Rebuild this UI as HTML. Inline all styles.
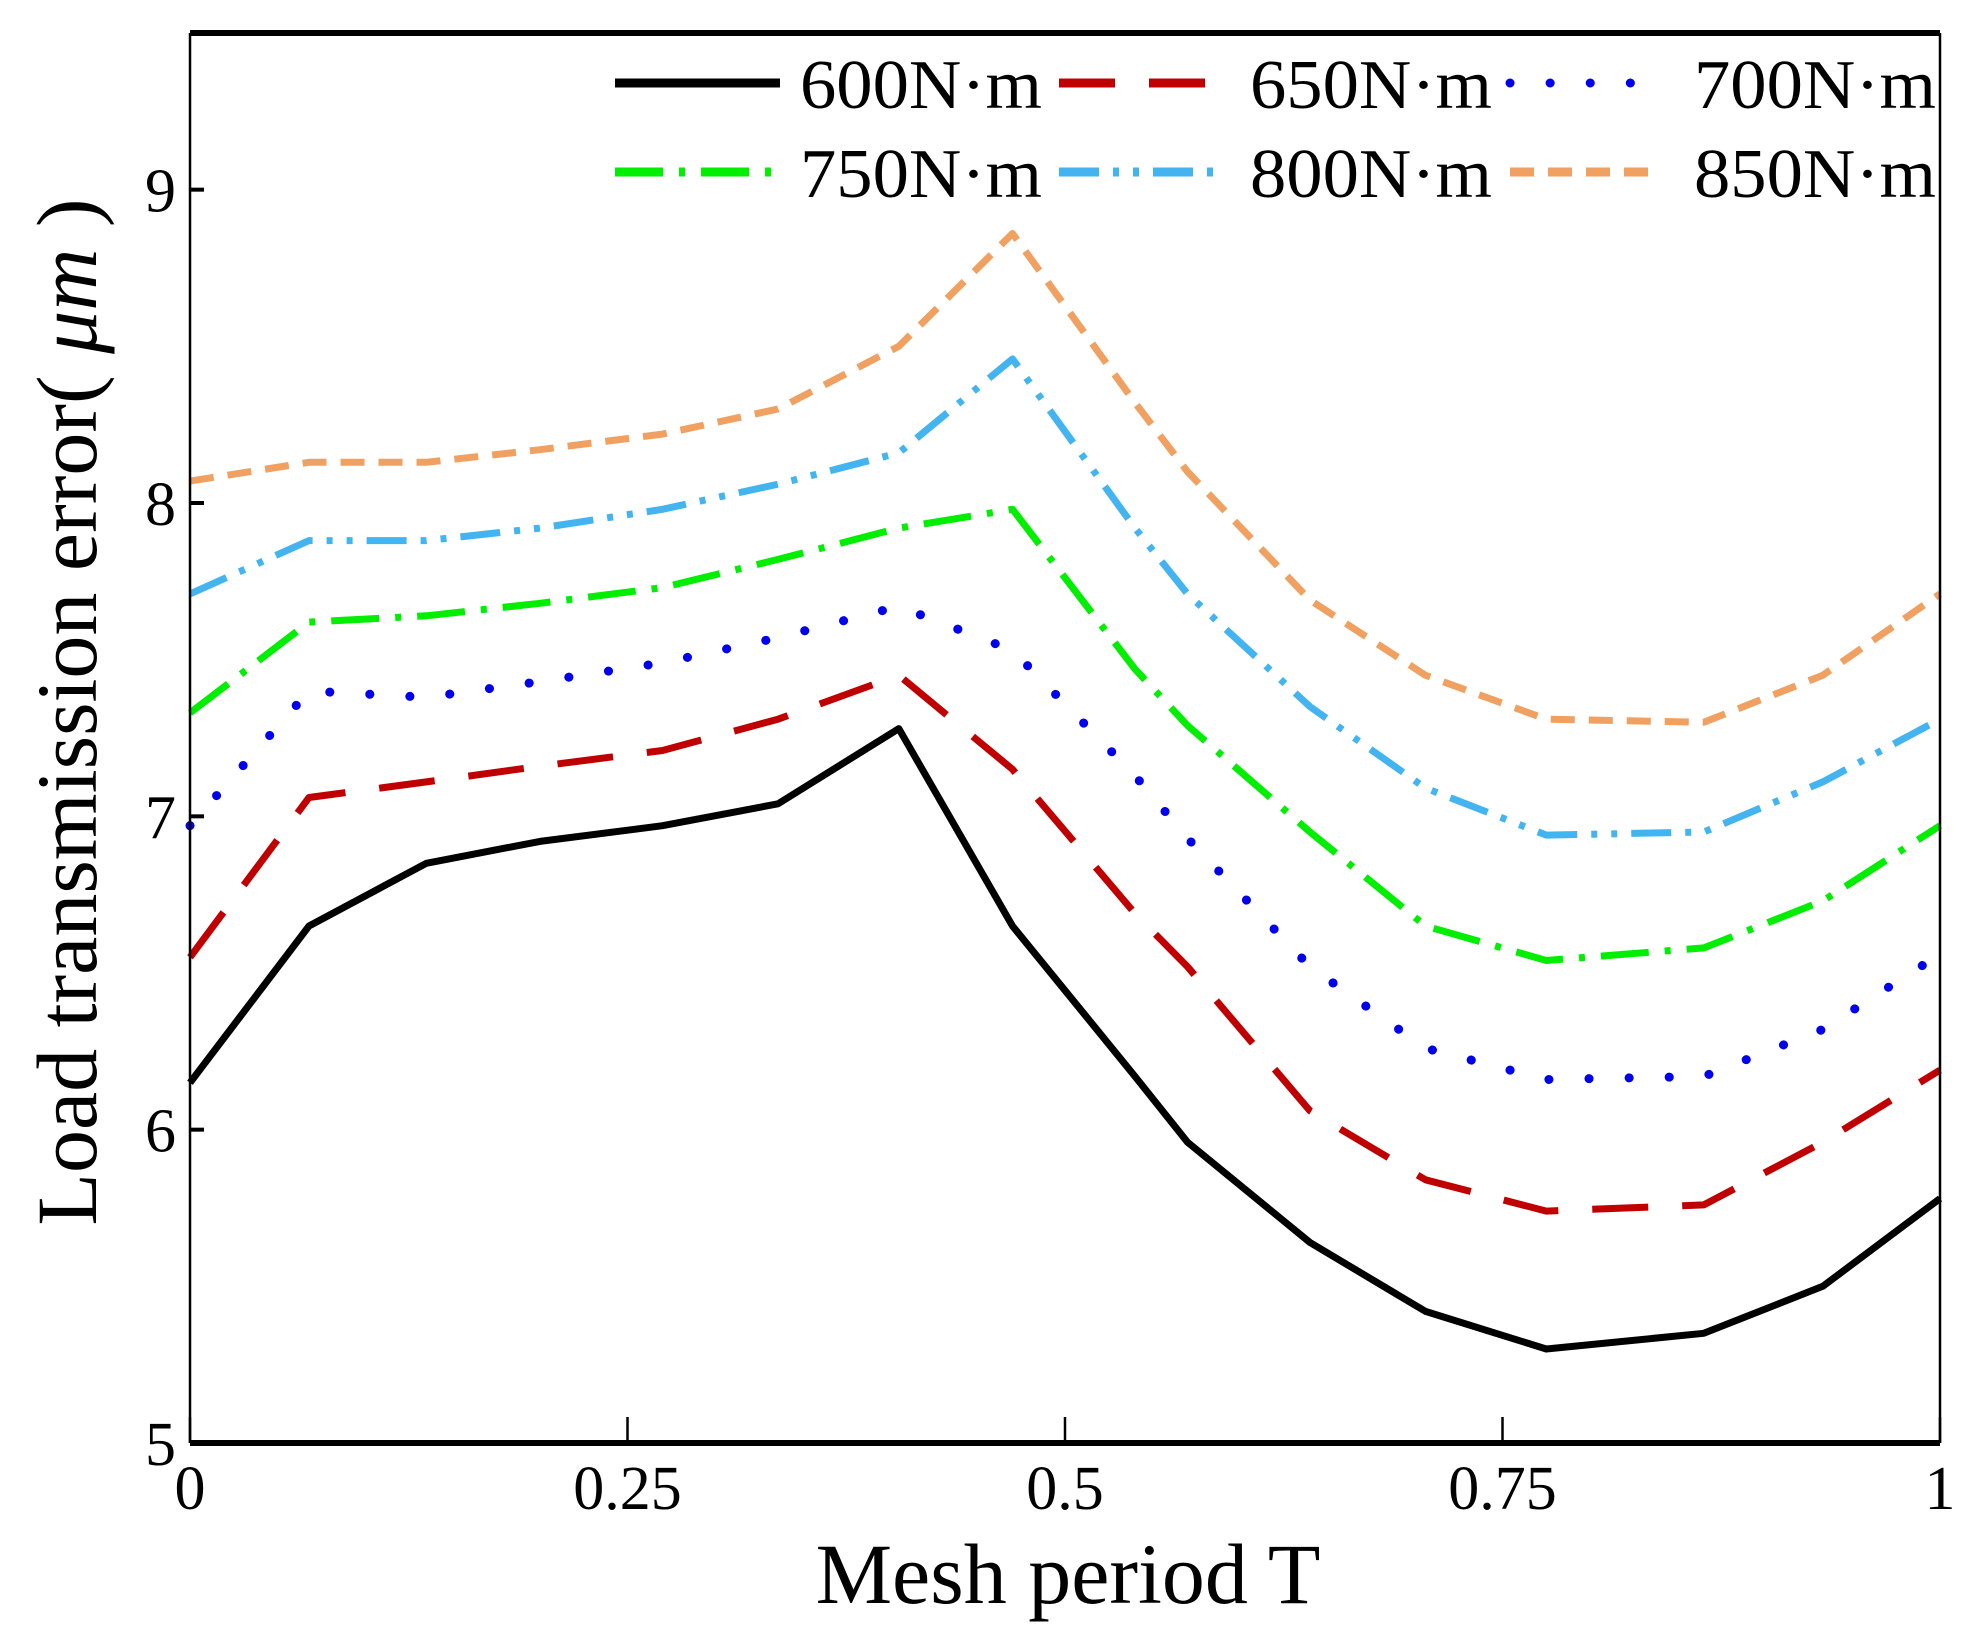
<!DOCTYPE html>
<html><head><meta charset="utf-8"><style>
html,body{margin:0;padding:0;background:#fff;}
svg{display:block;font-family:"Liberation Serif",serif;}
</style></head><body>
<svg id="chart" width="1979" height="1648" viewBox="0 0 1979 1648">
<g id="series"></g>
<g id="axes"></g>
<g id="legend"></g>
<text x="1068" y="1603" font-size="86" text-anchor="middle">Mesh period T</text>
<text transform="translate(96,712) rotate(-90)" font-size="86" text-anchor="middle">Load transmission error( <tspan font-style="italic">μm</tspan> )</text>
</svg>
<script>
const xs=[0,0.068,0.135,0.2,0.27,0.336,0.405,0.47,0.54,0.57,0.64,0.706,0.775,0.865,0.933,1];
const s600=[6.15,6.65,6.85,6.92,6.97,7.04,7.28,6.65,6.17,5.96,5.64,5.42,5.30,5.35,5.50,5.78];
const s650=[6.55,7.06,7.11,7.16,7.21,7.31,7.45,7.15,6.69,6.52,6.06,5.84,5.74,5.76,5.96,6.19];
const s700=[6.97,7.40,7.38,7.43,7.49,7.57,7.67,7.53,7.13,6.93,6.52,6.26,6.16,6.17,6.32,6.56];
const s750=[7.33,7.62,7.64,7.68,7.73,7.82,7.92,7.98,7.47,7.29,6.95,6.65,6.54,6.58,6.73,6.97];
const s800=[7.71,7.88,7.88,7.92,7.98,8.06,8.16,8.46,7.92,7.71,7.35,7.09,6.94,6.95,7.11,7.31];
const s850=[8.07,8.13,8.13,8.17,8.22,8.30,8.50,8.86,8.32,8.10,7.69,7.45,7.31,7.30,7.45,7.71];
const seriesNames=["600N·m","650N·m","700N·m","750N·m","800N·m","850N·m"];
const xTicks=[0,0.25,0.5,0.75,1];
const xTickLabels=["0","0.25","0.5","0.75","1"];
const yTicks=[5,6,7,8,9];
const yTickLabels=["5","6","7","8","9"];

const L=190,R=1940,T=33,B=1443,XMIN=0,XMAX=1,YMIN=5,YMAX=9.5;
const sx=v=>L+(v-XMIN)/(XMAX-XMIN)*(R-L);
const sy=v=>B-(v-YMIN)/(YMAX-YMIN)*(B-T);
const NS="http://www.w3.org/2000/svg";
function mk(tag,attrs,parent){const e=document.createElementNS(NS,tag);for(const k in attrs)e.setAttribute(k,attrs[k]);parent.appendChild(e);return e;}

const styles=[
 {c:"#000000",d:"",cap:"butt"},
 {c:"#c00000",d:"56 34",cap:"butt"},
 {c:"#0000ee",d:"0.1 40",cap:"round"},
 {c:"#00ee00",d:"48 16 6 16",cap:"butt"},
 {c:"#44b4f0",d:"40 14 6 14 6 14",cap:"butt"},
 {c:"#f0a060",d:"24 14",cap:"butt"}
];
const allSeries=[s600,s650,s700,s750,s800,s850];
const sg=document.getElementById('series');
allSeries.forEach((s,i)=>{
  const d=s.map((v,j)=>(j?'L':'M')+sx(xs[j]).toFixed(1)+' '+sy(v).toFixed(1)).join(' ');
  const p=mk('path',{d:d,fill:'none',stroke:styles[i].c,'stroke-width':(i==2?9:7),'stroke-dasharray':styles[i].d,'stroke-linecap':styles[i].cap,'stroke-linejoin':'round'},sg);
  
  
});

const ax=document.getElementById('axes');
let e;
e=mk('line',{x1:L,y1:T,x2:R,y2:T,stroke:'#000','stroke-width':6},ax);

e=mk('line',{x1:L,y1:B,x2:R,y2:B,stroke:'#000','stroke-width':6},ax);

e=mk('line',{x1:L,y1:T,x2:L,y2:B,stroke:'#000','stroke-width':2.5},ax);

e=mk('line',{x1:R,y1:T,x2:R,y2:B,stroke:'#000','stroke-width':2.5},ax);

xTicks.forEach((v,i)=>{
  const t=mk('line',{x1:sx(v),y1:B,x2:sx(v),y2:B-26,stroke:'#000','stroke-width':2.5},ax);
  
  const lb=mk('text',{x:sx(v),y:B+66,'font-size':62,'text-anchor':'middle'},ax);
  lb.textContent=xTickLabels[i];
  
});
yTicks.forEach((v,i)=>{
  const t=mk('line',{x1:L,y1:sy(v),x2:L+14,y2:sy(v),stroke:'#000','stroke-width':4},ax);
  
  const lb=mk('text',{x:L-14,y:sy(v)+22,'font-size':62,'text-anchor':'end'},ax);
  lb.textContent=yTickLabels[i];
  
});

const lg=document.getElementById('legend');
const lpos=[[615,780,800,83],[1059,1205,1250,83],[1510,1637,1694,83],[615,780,800,172],[1059,1225,1250,172],[1510,1660,1694,172]];
seriesNames.forEach((n,i)=>{
  const [a,b,tx,y]=lpos[i];
  const ln=mk('line',{x1:a,y1:y,x2:b,y2:y,stroke:styles[i].c,'stroke-width':9,'stroke-dasharray':styles[i].d,'stroke-linecap':styles[i].cap},lg);
  
  const t=mk('text',{x:tx,y:y+25,'font-size':70,textLength:242,lengthAdjust:'spacingAndGlyphs'},lg);
  t.textContent=n;
  
});
</script>
</body></html>
